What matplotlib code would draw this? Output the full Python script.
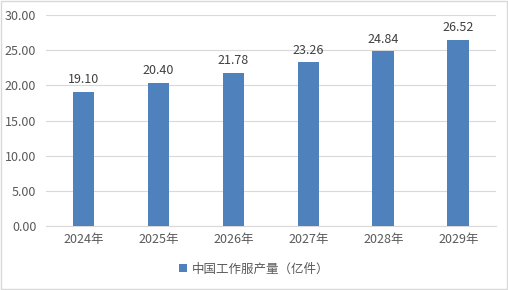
from matplotlib import pyplot as plt
from matplotlib.patches import Rectangle

plt.rcParams['font.family'] = ['Noto Sans CJK SC', 'DejaVu Sans']

# 数据
years = ["2024年", "2025年", "2026年", "2027年", "2028年", "2029年"]
values = [19.10, 20.40, 21.78, 23.26, 24.84, 26.52]
label = "中国工作服产量（亿件）"

text_color = "#595959"
bar_color = "#4F81BD"
fs = 9

fig = plt.figure(figsize=(5.08, 2.90), dpi=100)
ax = fig.add_axes([0.0906, 0.2207, 0.8854, 0.7273])

x = list(range(len(years)))
bars = ax.bar(x, values, width=0.29, color=bar_color, label=label, zorder=3)

for xi, v in zip(x, values):
    ax.text(xi, v + 0.8, "%.2f" % v, ha="center", va="bottom", fontsize=fs, color="#404040")

ax.set_xlim(-0.5, len(years) - 0.5)
ax.set_ylim(0, 30)
ax.set_yticks([0, 5, 10, 15, 20, 25, 30])
ax.set_yticklabels(["%.2f" % t for t in [0, 5, 10, 15, 20, 25, 30]])
ax.set_xticks(x)
ax.set_xticklabels(years)
ax.tick_params(axis="both", length=0, labelsize=fs, colors=text_color)
ax.tick_params(axis="y", pad=7)
ax.tick_params(axis="x", pad=5)

ax.grid(axis="y", color="#D9D9D9", linewidth=0.8, zorder=0)
for s in ["top", "right", "left"]:
    ax.spines[s].set_visible(False)
ax.spines["bottom"].set_color("#D9D9D9")

fig.legend(loc="center", bbox_to_anchor=(0.5, 0.072), frameon=False, fontsize=fs,
           handlelength=0.6, handleheight=0.6, handletextpad=0.4, labelcolor=text_color)

# 外框
fig.patches.append(Rectangle((0.001, 0.002), 0.997, 0.995, transform=fig.transFigure,
                             fill=False, edgecolor="#D9D9D9", linewidth=1))

fig.savefig("out.png", dpi=100)
